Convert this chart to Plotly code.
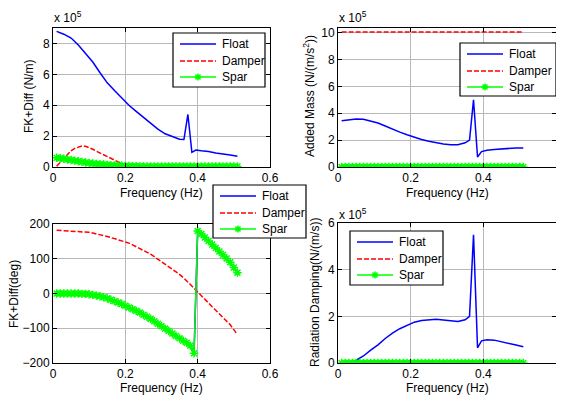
import plotly.graph_objects as go

# ---------------- data ----------------
freq_float = [0.01, 0.03, 0.05, 0.07, 0.09, 0.11, 0.13, 0.15, 0.17, 0.19, 0.21, 0.23, 0.25,
              0.27, 0.29, 0.31, 0.33, 0.35, 0.362, 0.373, 0.384, 0.395, 0.41, 0.43, 0.45,
              0.47, 0.49, 0.51]
float_fk = [8.78, 8.6, 8.35, 7.9, 7.35, 6.8, 6.1, 5.45, 4.95, 4.45, 4.0, 3.6, 3.2,
            2.85, 2.45, 2.15, 1.95, 1.8, 1.78, 3.4, 0.95, 1.1, 1.05, 1.0, 0.9,
            0.85, 0.78, 0.7]
float_added_mass = [3.45, 3.5, 3.57, 3.55, 3.42, 3.28, 3.05, 2.8, 2.6, 2.4, 2.2, 2.05, 1.92,
                    1.8, 1.72, 1.66, 1.65, 1.8, 2.0, 5.0, 0.75, 1.15, 1.25, 1.3, 1.35,
                    1.38, 1.42, 1.42]
float_damping = [0.0, 0.01, 0.12, 0.3, 0.55, 0.78, 1.05, 1.28, 1.47, 1.62, 1.75, 1.82, 1.86,
                 1.87, 1.84, 1.82, 1.78, 1.85, 2.0, 5.5, 0.65, 0.95, 1.0, 0.98, 0.9,
                 0.83, 0.77, 0.7]

freq = [0.01, 0.02, 0.03, 0.04, 0.05, 0.06, 0.07, 0.08, 0.09, 0.10,
        0.11, 0.12, 0.13, 0.14, 0.15, 0.16, 0.17, 0.18, 0.19, 0.20,
        0.21, 0.22, 0.23, 0.24, 0.25, 0.26, 0.27, 0.28, 0.29, 0.30,
        0.31, 0.32, 0.33, 0.34, 0.35, 0.36, 0.37, 0.38, 0.39, 0.40,
        0.41, 0.42, 0.43, 0.44, 0.45, 0.46, 0.47, 0.48, 0.49, 0.50, 0.51]

damper_fk = [0.05, 0.3, 0.6, 0.85, 1.05, 1.2, 1.3, 1.36, 1.34, 1.26,
             1.15, 1.02, 0.9, 0.78, 0.67, 0.55, 0.43, 0.32, 0.22, 0.14,
             0.08, 0.05, 0.03, 0.03, 0.03, 0.03, 0.03, 0.03, 0.03, 0.03,
             0.03, 0.03, 0.03, 0.03, 0.03, 0.03, 0.03, 0.03, 0.03, 0.03,
             0.03, 0.03, 0.03, 0.03, 0.03, 0.03, 0.03, 0.03, 0.03, 0.03, 0.03]
spar_fk = [0.6, 0.57, 0.53, 0.49, 0.45, 0.41, 0.37, 0.33, 0.29, 0.26,
           0.23, 0.2, 0.18, 0.16, 0.14, 0.12, 0.1, 0.09, 0.08, 0.07,
           0.06, 0.05, 0.045, 0.04, 0.035, 0.03, 0.03, 0.03, 0.03, 0.03,
           0.03, 0.03, 0.03, 0.03, 0.03, 0.03, 0.03, 0.03, 0.03, 0.03,
           0.03, 0.03, 0.03, 0.03, 0.03, 0.03, 0.03, 0.03, 0.03, 0.03, 0.03]

damper_added_mass = [10.05] * len(freq)
spar_added_mass = [0.0] * len(freq)
damper_damping = [0.0] * len(freq)
spar_damping = [0.0] * len(freq)

damper_phase = [182, 181.5, 181, 180.5, 180, 179, 178.5, 178, 177, 176,
                174, 172, 170, 167, 164, 161, 158, 155, 152, 149,
                145, 140, 135, 130, 125, 119, 113, 106, 99, 92,
                85, 78, 71, 63, 55, 46, 37, 26, 15, 4,
                -8, -18, -28, -38, -48, -58, -68, -78, -90, -104, -118]
spar_phase = [0, 0, 0, 0, 0, 0, 0, -1, -1, -2,
              -4, -6, -8, -11, -14, -18, -22, -26, -30, -35,
              -40, -45, -50, -55, -61, -67, -73, -80, -87, -94,
              -101, -108, -115, -122, -129, -136, -142, -150, -172, 180,
              171, 161, 151, 141, 131, 121, 111, 101, 90, 75, 60]
float_phase = spar_phase

x_ticks = [0, 0.2, 0.4, 0.6]
x_tick_labels = ["0", "0.2", "0.4", "0.6"]
x_title = "Frequency (Hz)"
y_titles = ["FK+Diff (N/m)", "Added Mass (N/(m/s<sup>2</sup>))",
            "FK+Diff(deg)", "Radiation Damping(N/(m/s))"]
legend_names = ["Float", "Damper", "Spar"]
exponent_text = "x 10<sup>5</sup>"

# ---------------- figure ----------------
FONT = "Liberation Sans, Arial, sans-serif"
BLUE = "#0000ff"
RED = "#ff0000"
GREEN = "#00ff00"
DAMPER_DASH = "5px,2px"

# the page body adds an 8px margin; lay out in window pixels and shift
OFF = 8
W, H = 564 - OFF, 401 - OFF

def fx(X):
    return (X - OFF) / W

def fy(Y):
    return 1 - (Y - OFF) / H

fig = go.Figure()

def add_set(xa, ya, fxs, fys, dxs, dys, sxs, sys_):
    fig.add_trace(go.Scatter(x=fxs, y=fys, mode="lines", name=legend_names[0],
                             line=dict(color=BLUE, width=1.5),
                             xaxis=xa, yaxis=ya, showlegend=False))
    fig.add_trace(go.Scatter(x=dxs, y=dys, mode="lines", name=legend_names[1],
                             line=dict(color=RED, width=1.5, dash=DAMPER_DASH),
                             xaxis=xa, yaxis=ya, showlegend=False))
    fig.add_trace(go.Scatter(x=sxs, y=sys_, mode="lines+markers", name=legend_names[2],
                             line=dict(color=GREEN, width=1.5),
                             marker=dict(symbol="asterisk-open", size=7,
                                         line=dict(color=GREEN, width=1.5)),
                             xaxis=xa, yaxis=ya, showlegend=False))

add_set("x", "y", freq_float, float_fk, freq, damper_fk, freq, spar_fk)
add_set("x2", "y2", freq_float, float_added_mass, freq, damper_added_mass, freq, spar_added_mass)
add_set("x3", "y3", freq, float_phase, freq, damper_phase, freq, spar_phase)
add_set("x4", "y4", freq_float, float_damping, freq, damper_damping, freq, spar_damping)

axis_common = dict(showline=True, linecolor="black", linewidth=1, mirror="ticks",
                   ticks="inside", ticklen=4, tickcolor="black", automargin=False,
                   showgrid=True, gridcolor="#b9b9b9", gridwidth=1,
                   zeroline=False, tickfont=dict(size=12, color="black", family=FONT))

def xaxis(a, b, anchor):
    return dict(domain=[fx(a), fx(b)], anchor=anchor, range=[0, 0.6], tickvals=x_ticks,
                ticktext=x_tick_labels, **axis_common)

def yaxis(top, bottom, anchor, rng, ticks):
    return dict(domain=[fy(bottom), fy(top)], anchor=anchor, range=rng, tickvals=ticks,
                **axis_common)

fig.update_layout(
    width=W, height=H,
    margin=dict(l=0, r=0, t=0, b=0, autoexpand=False),
    paper_bgcolor="white", plot_bgcolor="white",
    font=dict(family=FONT, size=12, color="black"),
    xaxis=xaxis(53, 270, "y"),
    yaxis=yaxis(28, 167, "x", [0, 9], [0, 2, 4, 6, 8]),
    xaxis2=xaxis(338, 556, "y2"),
    yaxis2=yaxis(28, 167, "x2", [0, 10.35], [0, 2, 4, 6, 8, 10]),
    xaxis3=xaxis(53, 270, "y3"),
    yaxis3=yaxis(224, 363, "x3", [-200, 200], [-200, -100, 0, 100, 200]),
    xaxis4=xaxis(338, 556, "y4"),
    yaxis4=yaxis(223, 363, "x4", [0, 6], [0, 2, 4, 6]),
    showlegend=False,
)

def text(X, Y, s, angle=0, xanchor="center"):
    fig.add_annotation(x=fx(X), y=fy(Y), xref="paper", yref="paper", text=s,
                       showarrow=False, textangle=angle, xanchor=xanchor,
                       yanchor="middle", font=dict(size=12, color="black", family=FONT))

# x-axis titles
text(161, 193, x_title)
text(447, 193, x_title)
text(161, 388, x_title)
text(447, 388, x_title)
# y-axis titles
text(29, 97, y_titles[0], angle=-90)
text(309, 96, y_titles[1], angle=-90)
text(14, 294, y_titles[2], angle=-90)
text(315, 293, y_titles[3], angle=-90)
# exponent labels
text(52, 17, exponent_text, xanchor="left")
text(337, 17, exponent_text, xanchor="left")
text(337, 214, exponent_text, xanchor="left")

# ---------------- legends (MATLAB-style boxes) ----------------
def legend_box(L, T, R, B):
    fig.add_shape(type="rect", xref="paper", yref="paper",
                  x0=fx(L), x1=fx(R), y0=fy(B), y1=fy(T),
                  fillcolor="white", line=dict(color="black", width=1.2), layer="above")
    rows = [T + 11, T + 28, T + 44]
    styles = [dict(color=BLUE, width=1.5),
              dict(color=RED, width=1.5, dash=DAMPER_DASH),
              dict(color=GREEN, width=1.5)]
    for name, yy, st in zip(legend_names, rows, styles):
        fig.add_shape(type="line", xref="paper", yref="paper",
                      x0=fx(L + 7), x1=fx(L + 43), y0=fy(yy), y1=fy(yy),
                      line=st, layer="above")
        fig.add_annotation(x=fx(L + 47), y=fy(yy), xref="paper", yref="paper",
                           text=name, showarrow=False, xanchor="left", yanchor="middle",
                           font=dict(size=12, color="black", family=FONT))
    # asterisk glyph for the Spar entry
    cx, cy, r = L + 25, rows[2], 3.5
    d = r * 0.72
    path = (f"M {fx(cx - r)},{fy(cy)} L {fx(cx + r)},{fy(cy)} "
            f"M {fx(cx)},{fy(cy - r)} L {fx(cx)},{fy(cy + r)} "
            f"M {fx(cx - d)},{fy(cy - d)} L {fx(cx + d)},{fy(cy + d)} "
            f"M {fx(cx - d)},{fy(cy + d)} L {fx(cx + d)},{fy(cy - d)}")
    fig.add_shape(type="path", xref="paper", yref="paper", path=path,
                  line=dict(color=GREEN, width=1.5), layer="above")

legend_box(173, 33, 265, 87)
legend_box(460, 43, 556, 96)
legend_box(213, 185, 306, 238)
legend_box(350, 231, 443, 285)

fig.write_html("out.html")
